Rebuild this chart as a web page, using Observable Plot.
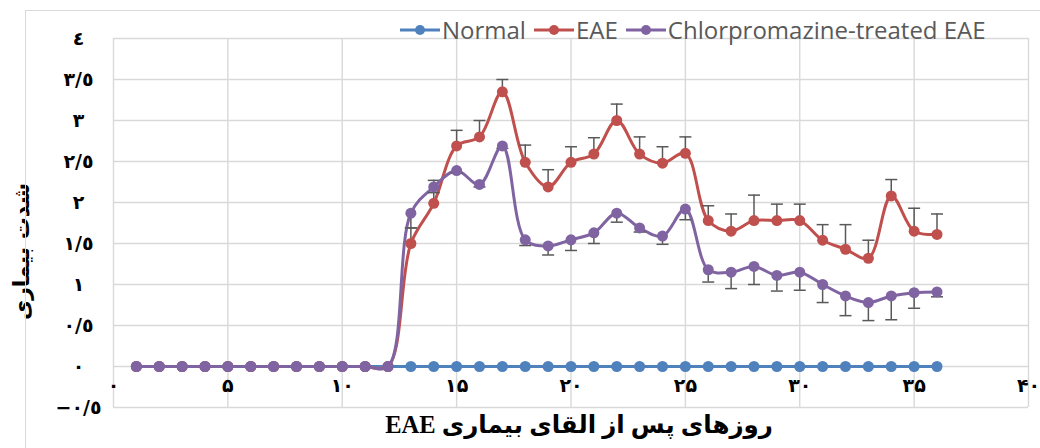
<!DOCTYPE html>
<html>
<head>
<meta charset="utf-8">
<script src="https://cdn.jsdelivr.net/npm/d3@7"></script>
<script src="https://cdn.jsdelivr.net/npm/@observablehq/plot@0.6"></script>
<style>
  body { margin: 0; background: #fff; }
  #wrap { position: relative; width: 1040px; height: 448px; overflow: hidden; }
  #border { position: absolute; left: 25px; top: 10px; width: 1100px; height: 500px; border: 1px solid #d9d9d9; box-sizing: border-box; pointer-events: none; }
  #legend { position: absolute; left: 400px; top: 14px; display: flex; align-items: center; font-family: "Open Sans", sans-serif; font-size: 24px; color: #595959; white-space: nowrap; line-height: 32px; }
  #legend .item { display: flex; align-items: center; margin-right: 8px; }
  #legend svg { margin-right: 2px; }
</style>
</head>
<body>
<div id="wrap">
  <div id="chart"></div>
  <div id="legend"></div>
  <div id="border"></div>
</div>
<script>
const days = [1,2,3,4,5,6,7,8,9,10,11,12,13,14,15,16,17,18,19,20,21,22,23,24,25,26,27,28,29,30,31,32,33,34,35,36];
const seriesNames = ["Normal", "EAE", "Chlorpromazine-treated EAE"];
const seriesColors = ["#4F81BD", "#C0504D", "#8064A2"];
const normalValues = [0,0,0,0,0,0,0,0,0,0,0,0,0,0,0,0,0,0,0,0,0,0,0,0,0,0,0,0,0,0,0,0,0,0,0,0];
const eaeValues = [0,0,0,0,0,0,0,0,0,0,0,0,1.50,1.99,2.69,2.80,3.35,2.49,2.19,2.49,2.59,3.00,2.59,2.48,2.60,1.78,1.65,1.78,1.78,1.78,1.54,1.43,1.32,2.08,1.65,1.61];
const eaeErrors = [0,0,0,0,0,0,0,0,0,0,0,0,0.19,0.28,0.19,0.20,0.15,0.21,0.21,0.19,0.20,0.20,0.21,0.20,0.20,0.18,0.21,0.31,0.20,0.20,0.19,0.30,0.22,0.20,0.28,0.25];
const cpzValues = [0,0,0,0,0,0,0,0,0,0,0,0,1.87,2.19,2.39,2.22,2.69,1.545,1.47,1.545,1.63,1.87,1.69,1.59,1.92,1.18,1.15,1.22,1.11,1.15,1.00,0.86,0.78,0.86,0.90,0.91];
const cpzErrors = [0,0,0,0,0,0,0,0,0,0,0,0,0.18,0.07,0.03,0.03,0.03,0.07,0.11,0.13,0.13,0.11,0.05,0.10,0.13,0.15,0.20,0.22,0.19,0.22,0.22,0.24,0.22,0.29,0.19,0.06];
const xTicks = [0,5,10,15,20,25,30,35,40];
const xTickLabels = ["۰","۵","۱۰","۱۵","۲۰","۲۵","۳۰","۳۵","۴۰"];
const yTicks = [-0.5,0,0.5,1,1.5,2,2.5,3,3.5,4];
const yTickLabels = ["−٠/٥","٠","٠/٥","١","١/٥","٢","٢/٥","٣","٣/٥","٤"];
const xTitle = "\u202Bروزهای پس از القای بیماری EAE\u202C";
const yTitle = "\u202Bشدت بیماری\u202C";

const mk = (vals, errs) => days.map((d, i) => ({day: d, v: vals[i], err: errs ? errs[i] : 0}));
const normal = mk(normalValues);
const eae = mk(eaeValues, eaeErrors);
const cpz = mk(cpzValues, cpzErrors);
const eaeBars = eae.filter(d => d.err > 0);
const cpzBars = cpz.filter(d => d.err > 0);

const cap = {draw(ctx, size) { const w = Math.sqrt(size / Math.PI); ctx.moveTo(-w, 0); ctx.lineTo(w, 0); }};
const errColor = "#595959";
const gridStyle = {stroke: "#d9d9d9", strokeOpacity: 1, strokeWidth: 1.4};
const arabicFont = "DejaVu Sans";

function series(data, color, bars, dir) {
  const marks = [Plot.line(data, {x: "day", y: "v", stroke: color, strokeWidth: 3, curve: "catmull-rom"})];
  if (bars) {
    marks.push(Plot.ruleX(bars, {x: "day", y1: "v", y2: d => d.v + dir * d.err, stroke: errColor, strokeWidth: 1.5}));
    marks.push(Plot.dot(bars, {x: "day", y: d => d.v + dir * d.err, symbol: cap, r: 6, stroke: errColor, strokeWidth: 1.5, fill: "none"}));
  }
  marks.push(Plot.dot(data, {x: "day", y: "v", r: 5.5, fill: color, stroke: "none"}));
  return marks;
}

const chart = Plot.plot({
  width: 1040,
  height: 448,
  marginLeft: 113,
  marginRight: 12,
  marginTop: 38,
  marginBottom: 41,
  style: {background: "transparent", overflow: "visible"},
  x: {domain: [0, 40], axis: null},
  y: {domain: [-0.5, 4], axis: null},
  marks: [
    Plot.gridX(xTicks, gridStyle),
    Plot.gridY(yTicks, gridStyle),
    Plot.axisY(yTicks, {tickSize: 0, tickPadding: 35, textAnchor: "middle", tickFormat: (d, i) => yTickLabels[i], fontSize: 19, fontWeight: "bold", fontFamily: arabicFont, fill: "#000", label: null}),
    Plot.text(xTicks, {x: d => d, y: () => 0, dy: 19, text: (d, i) => xTickLabels[i], fontSize: 19, fontWeight: "bold", fontFamily: arabicFont, fill: "#000"}),
    Plot.text([xTitle], {frameAnchor: "bottom", dy: 25, dx: 8, text: d => d, fontSize: 24.5, fontWeight: "bold", fontFamily: "Liberation Serif, DejaVu Sans", fill: "#000"}),
    Plot.text([yTitle], {frameAnchor: "left", dx: -92, dy: 97, rotate: -90, text: d => d, fontSize: 22, fontWeight: "bold", fontFamily: arabicFont, fill: "#000"}),
    ...series(normal, seriesColors[0]),
    ...series(eae, seriesColors[1], eaeBars, 1),
    ...series(cpz, seriesColors[2], cpzBars, -1)
  ]
});
document.getElementById("chart").append(chart);

const legend = document.getElementById("legend");
seriesNames.forEach((name, i) => {
  const item = document.createElement("div");
  item.className = "item";
  item.innerHTML = `<svg width="40" height="14"><line x1="0" x2="40" y1="7" y2="7" stroke="${seriesColors[i]}" stroke-width="3"/><circle cx="20" cy="7" r="5" fill="${seriesColors[i]}"/></svg><span>${name}</span>`;
  legend.append(item);
});
</script>
</body>
</html>
